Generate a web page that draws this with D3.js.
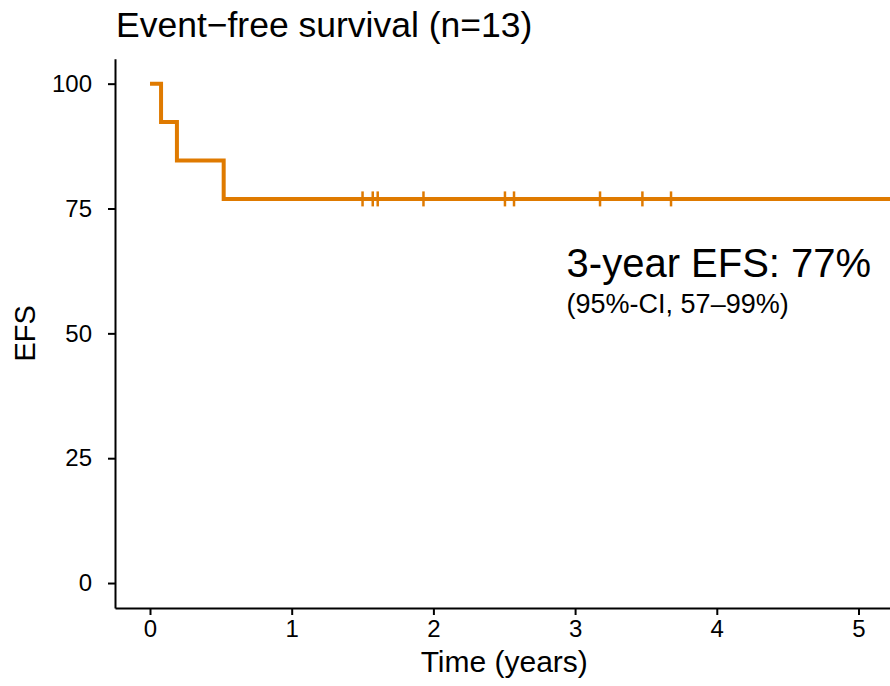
<!DOCTYPE html>
<html>
<head>
<meta charset="utf-8">
<script src="https://cdn.jsdelivr.net/npm/d3@7"></script>
<style>
  body { margin: 0; background: #fff; }
  svg { display: block; font-family: "Liberation Sans", Arial, Helvetica, sans-serif; }
</style>
</head>
<body>
<div id="chart"></div>
<script>
// Event times (years) and censoring times
const eventTimes = [0.078, 0.19, 0.52];
const censorTimes = [1.50, 1.572, 1.607, 1.93, 2.505, 2.569, 3.176, 3.475, 3.677, 5.45];
const xTicks = [0, 1, 2, 3, 4, 5];
const yTicks = [0, 25, 50, 75, 100];
const titleText = "Event\u2212free survival (n=13)";
const noteMain = "3-year EFS: 77%";
const noteSub = "(95%-CI, 57\u201399%)";

const width = 890, height = 686;
const color = "#DF7A00";

// Kaplan-Meier steps from the event / censor lists
const n = eventTimes.length + censorTimes.length;
const all = eventTimes.map(t => ({t, ev: 1})).concat(censorTimes.map(t => ({t, ev: 0})))
    .sort((a, b) => a.t - b.t);
let atRisk = n, s = 100;
const steps = [{t: 0, s: 100}];
const censored = [];
all.forEach(d => {
    if (d.ev) {
        steps.push({t: d.t, s: s});
        s = s * (1 - 1 / atRisk);
        steps.push({t: d.t, s: s});
    } else {
        censored.push({t: d.t, s: s});
    }
    atRisk--;
});
steps.push({t: d3.max(all, d => d.t), s: s});

const x = d3.scaleLinear().domain([-0.247, 5.3]).range([115, 901]);
const y = d3.scaleLinear().domain([-5, 105]).range([608, 58.7]);

const svg = d3.select("#chart").append("svg")
    .attr("width", width)
    .attr("height", height);

svg.append("defs").append("clipPath").attr("id", "clip")
    .append("rect").attr("x", 115).attr("y", 50).attr("width", width - 115).attr("height", 570);

// axes
const xAxis = svg.append("g")
    .attr("transform", `translate(0,${y(-5)})`)
    .call(d3.axisBottom(x).tickValues(xTicks).tickFormat(d3.format("d"))
        .tickSize(7).tickSizeOuter(0).tickPadding(4));
const yAxis = svg.append("g")
    .attr("transform", `translate(${x(-0.247)},0)`)
    .call(d3.axisLeft(y).tickValues(yTicks).tickSize(7).tickSizeOuter(0).tickPadding(16));

[xAxis, yAxis].forEach(g => {
    g.select(".domain").attr("stroke", "#000").attr("stroke-width", 2);
    g.selectAll(".tick line").attr("stroke", "#000").attr("stroke-width", 2);
    g.selectAll(".tick text").attr("fill", "#000").attr("font-size", 24)
        .attr("font-family", "'Liberation Sans', Arial, sans-serif");
});
xAxis.selectAll(".tick text").attr("dy", "0.75em");

// curve
const line = d3.line().x(d => x(d.t)).y(d => y(d.s));
const plot = svg.append("g").attr("clip-path", "url(#clip)");
plot.append("path")
    .datum(steps)
    .attr("d", line)
    .attr("fill", "none")
    .attr("stroke", color)
    .attr("stroke-width", 4);

plot.selectAll(".cens")
    .data(censored)
    .join("line")
    .attr("class", "cens")
    .attr("x1", d => x(d.t)).attr("x2", d => x(d.t))
    .attr("y1", d => y(d.s) - 7.5).attr("y2", d => y(d.s) + 7.5)
    .attr("stroke", color)
    .attr("stroke-width", 2.5);

// texts
svg.append("text")
    .attr("x", 116).attr("y", 37)
    .attr("font-size", 35.5)
    .text(titleText);

svg.append("text")
    .attr("x", x(2.94)).attr("y", 277)
    .attr("font-size", 40)
    .text(noteMain);

svg.append("text")
    .attr("x", x(2.94)).attr("y", 313)
    .attr("font-size", 27)
    .text(noteSub);

svg.append("text")
    .attr("x", (x(0) + x(5)) / 2).attr("y", 672)
    .attr("text-anchor", "middle")
    .attr("font-size", 30)
    .text("Time (years)");

svg.append("text")
    .attr("transform", `translate(35,${y(50)}) rotate(-90)`)
    .attr("text-anchor", "middle")
    .attr("font-size", 29)
    .text("EFS");
</script>
</body>
</html>
